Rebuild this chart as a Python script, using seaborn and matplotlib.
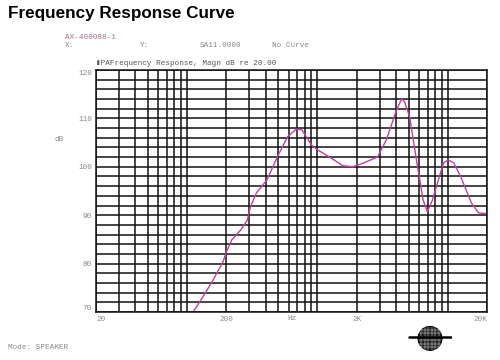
import numpy as np
import pandas as pd
import matplotlib
matplotlib.use('Agg')
import matplotlib.pyplot as plt
import seaborn as sns
from matplotlib.ticker import LogLocator, MultipleLocator, NullFormatter
from matplotlib.patches import Circle

# response curve
freq_hz = [105, 111, 132, 158, 188, 200, 220, 240, 262, 290, 305, 340, 380, 410, 492,
           590, 690, 760, 900, 1000, 1240, 1570, 1860, 2180, 2890, 3370, 4040,
           4430, 4660, 5100, 5800, 6480, 6970, 7620, 9270, 10100, 11100, 12600,
           15200, 17200, 20000]
magn_db = [69.0, 70.0, 73.1, 76.6, 80.3, 82.4, 84.9, 86.0, 87.2, 89.0, 91.6, 94.6, 96.2,
           97.3, 102.0, 106.2, 107.8, 107.6, 104.5, 103.5, 102.0, 100.2, 100.0,
           100.6, 102.0, 105.5, 111.7, 114.0, 113.4, 110.3, 100.8, 93.1, 90.7,
           93.1, 100.8, 101.4, 100.8, 97.9, 92.5, 90.5, 90.3]

x_ticks = [20, 200, 2000, 20000]
x_tick_labels = ['20', '200', '2K', '20K']
y_ticks = [70, 80, 90, 100, 110, 120]

df = pd.DataFrame({'freq': freq_hz, 'db': magn_db})

sns.set_style('white')
plt.rcParams['font.family'] = ['Liberation Mono', 'DejaVu Sans Mono']

fig = plt.figure(figsize=(5, 3.6), dpi=100)
ax = fig.add_axes([0.192, 0.133, 0.782, 0.673])

sns.lineplot(data=df, x='freq', y='db', color='#c83d9e', lw=1.0, ax=ax)

ax.set_xscale('log')
ax.set_xlim(20, 20000)
ax.set_ylim(70, 120)
ax.set_xticks(x_ticks)
ax.set_xticklabels(x_tick_labels)
ax.xaxis.set_minor_locator(LogLocator(base=10, subs=np.arange(1, 10)))
ax.xaxis.set_minor_formatter(NullFormatter())
ax.set_yticks(y_ticks)
ax.yaxis.set_minor_locator(MultipleLocator(2))
ax.grid(True, which='both', color='#111111', lw=1.1)
ax.set_axisbelow(True)
ax.tick_params(which='both', length=0, labelsize=5.5, labelcolor='#888888', pad=3)
for lab in ax.get_xticklabels():
    t = lab.get_text()
    lab.set_ha('left' if t == '20' else ('right' if t == '20K' else 'center'))
ylabs = ax.get_yticklabels()
ylabs[0].set_va('bottom')
ylabs[-1].set_va('top')
for sp in ax.spines.values():
    sp.set_color('#111111')
    sp.set_linewidth(1.1)

ax.set_xlabel('Hz', fontsize=5.5, color='#888888', labelpad=-6)
ax.set_ylabel('dB', fontsize=5.5, color='#888888', rotation=0)
ax.yaxis.set_label_coords(-0.095, 0.70)

ax.text(0.0, 1.012, '\u25aePAFrequency Response, Magn dB re 20.00', transform=ax.transAxes,
        fontsize=5.5, color='#555555', va='bottom', ha='left')

fig.text(0.016, 0.962, 'Frequency Response Curve', fontsize=12.3, fontweight='bold',
         family=['Liberation Sans Narrow', 'Liberation Sans', 'DejaVu Sans'],
         color='black', va='center', ha='left')

small = dict(fontsize=5.5, color='#888888', va='center', ha='left')
fig.text(0.13, 0.895, 'AX-400088-1', **dict(small, color='#a0708a'))
fig.text(0.13, 0.873, 'X:', **small)
fig.text(0.28, 0.873, 'Y:', **small)
fig.text(0.40, 0.873, 'SA11.0000', **small)
fig.text(0.545, 0.873, 'No Curve', **small)
fig.text(0.016, 0.036, 'Mode: SPEAKER', **small)

# small globe logo, bottom right
lax = fig.add_axes([0.80, 0.0, 0.12, 0.12])
lax.set_xlim(-1.9, 1.9)
lax.set_ylim(-1.9, 1.9)
lax.set_aspect('equal')
lax.axis('off')
lax.add_patch(Circle((0, 0), 1.05, facecolor='#222222', edgecolor='black', lw=0.8))
for yy in np.linspace(-0.75, 0.75, 6):
    lax.plot([-1, 1], [yy, yy], color='white', lw=0.3)
for xx in np.linspace(-0.75, 0.75, 6):
    lax.plot([xx, xx], [-1, 1], color='white', lw=0.3)
lax.plot([-1.85, 1.85], [0.1, 0.1], color='black', lw=1.8)

fig.savefig('out.png', dpi=100)
